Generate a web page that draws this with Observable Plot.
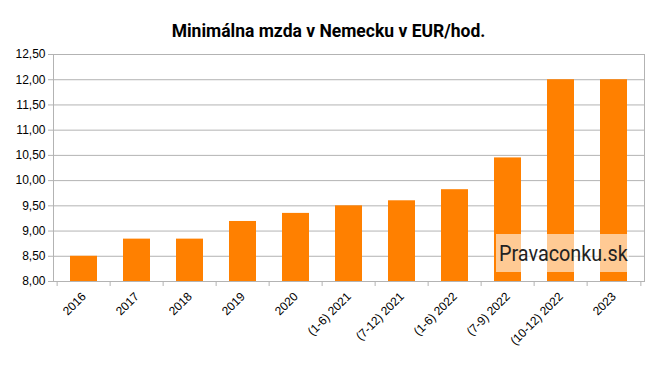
<!DOCTYPE html>
<html>
<head>
<meta charset="utf-8">
<script src="https://cdn.jsdelivr.net/npm/d3@7"></script>
<script src="https://cdn.jsdelivr.net/npm/@observablehq/plot@0.6"></script>
<style>
  html, body { margin: 0; padding: 0; background: #fff; }
  #wrap { position: relative; width: 657px; height: 369px; }
  #title { height: 44px; line-height: 44px; padding-top: 9px; box-sizing: border-box; text-align: center; font-family: Roboto, "Liberation Sans", sans-serif; font-weight: bold; font-size: 17.5px; color: #000; }
  #wm { position: absolute; left: 496px; top: 234px; width: 133px; height: 38px; background: rgba(255,255,255,0.58); }
  #wm span { position: absolute; left: 3px; top: 0; font-family: Roboto, sans-serif; font-size: 22.5px; color: #222; line-height: 38px; white-space: nowrap; transform: scaleX(0.88); transform-origin: 0 50%; }
</style>
</head>
<body>
<div id="wrap">
  <div id="title">Minimálna mzda v Nemecku v EUR/hod.</div>
  <div id="chart"></div>
  <div id="wm"><span>Pravaconku.sk</span></div>
</div>
<script>
const categories = ["2016", "2017", "2018", "2019", "2020", "(1-6) 2021", "(7-12) 2021", "(1-6) 2022", "(7-9) 2022", "(10-12) 2022", "2023"];
const values = [8.50, 8.84, 8.84, 9.19, 9.35, 9.50, 9.60, 9.82, 10.45, 12.00, 12.00];
const yTicks = [8, 8.5, 9, 9.5, 10, 10.5, 11, 11.5, 12, 12.5];
const yMin = 8, yMax = 12.5;

const data = categories.map((c, i) => ({cat: c, val: values[i]}));

const width = 657, height = 325;
const marginLeft = 53, marginRight = 13, marginTop = 10, marginBottom = 88;
const step = (width - marginLeft - marginRight) / categories.length;
const fmt = d => d.toFixed(2).replace(".", ",");
const grid = "#b3b3b3";

const chart = Plot.plot({
  width, height, marginLeft, marginRight, marginTop, marginBottom,
  style: {fontFamily: "'Liberation Sans', Arial, sans-serif", fontSize: "12px", color: "#000", background: "#fff"},
  x: {domain: categories, paddingInner: 0.5, paddingOuter: 0.25, label: null},
  y: {domain: [yMin, yMax], label: null},
  marks: [
    Plot.ruleY(yTicks, {stroke: grid, strokeWidth: 1}),
    Plot.barY(data, {x: "cat", y1: () => yMin, y2: "val", fill: "#ff8000"}),
    Plot.frame({stroke: grid, strokeWidth: 1}),
    Plot.axisY({ticks: yTicks, tickFormat: fmt, tickSize: 5, tickPadding: 3, stroke: grid, fill: "#000", label: null}),
    Plot.axisX({tickSize: 5, dx: -step / 2, tickFormat: () => "", stroke: grid, label: null}),
    Plot.ruleX([categories[categories.length - 1]], {dx: step / 2, y1: () => yMin, y2: () => yMin, insetBottom: -5, stroke: grid}),
    Plot.axisX({tickSize: 0, tickPadding: 13, tickRotate: -45, fill: "#000", label: null, dx: 0})
  ]
});
document.getElementById("chart").appendChild(chart);
</script>
</body>
</html>
